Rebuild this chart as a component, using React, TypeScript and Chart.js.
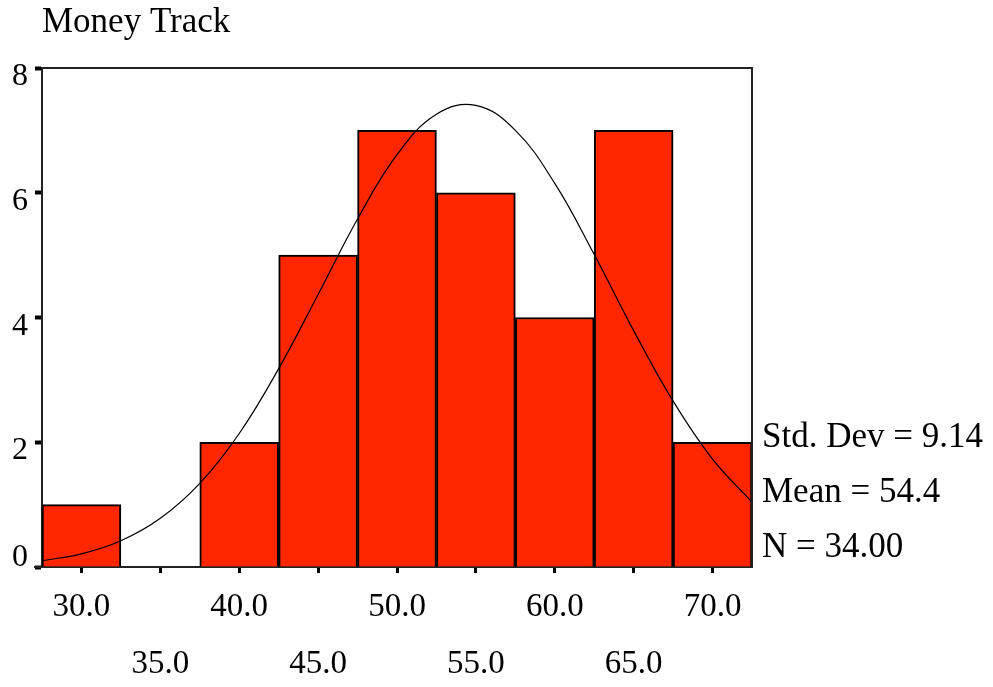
import React, { useEffect, useRef } from "react";
import { Chart, registerables } from "chart.js";

Chart.register(...registerables);

const chartTitle = "Money Track";
const binCenters = [30, 35, 40, 45, 50, 55, 60, 65, 70];
const binCounts = [1, 0, 2, 5, 7, 6, 4, 7, 2];
const curveX = [27.5, 30, 32.5, 35, 37.5, 40, 42.5, 45, 47.5, 50, 52.5, 55, 57.5, 60, 62.5, 65, 67.5, 70, 72.5];
const curveY = [0.1, 0.21, 0.42, 0.78, 1.34, 2.14, 3.18, 4.37, 5.58, 6.61, 7.26, 7.4, 7.0, 6.15, 5.01, 3.79, 2.66, 1.73, 1.04];
const xTickValues = [30, 35, 40, 45, 50, 55, 60, 65, 70];
const yTickValues = [0, 2, 4, 6, 8];
const statLines = ["Std. Dev = 9.14", "Mean = 54.4", "N = 34.00"];

const FONT = '"Liberation Serif", "Times New Roman", Times, serif';

const overlay = {
  id: "overlay",
  afterDraw(chart: any) {
    const { ctx, chartArea, scales } = chart;
    const xs = scales.x;
    const ys = scales.y;
    ctx.save();
    ctx.strokeStyle = "#222";
    ctx.lineWidth = 2;
    ctx.beginPath();
    ctx.moveTo(chartArea.left, chartArea.top);
    ctx.lineTo(chartArea.right, chartArea.top);
    ctx.lineTo(chartArea.right, chartArea.bottom);
    ctx.moveTo(chartArea.left - 8, chartArea.bottom);
    ctx.lineTo(chartArea.left, chartArea.bottom);
    ctx.stroke();

    ctx.fillStyle = "#000";
    ctx.font = `32px ${FONT}`;
    ctx.textAlign = "right";
    ctx.textBaseline = "alphabetic";
    yTickValues.forEach((v) => {
      const py = ys.getPixelForValue(v);
      const base = Math.min(py + 17, chartArea.bottom - 1);
      ctx.fillText(String(v), 28, base);
    });
    ctx.font = `33px ${FONT}`;
    ctx.textAlign = "center";
    xTickValues.forEach((v, i) => {
      const px = xs.getPixelForValue(v);
      const base = chartArea.bottom + (i % 2 === 0 ? 49 : 106);
      ctx.fillText(v.toFixed(1), px, base);
    });
    ctx.font = `35px ${FONT}`;
    ctx.textAlign = "left";
    ctx.fillText(chartTitle, 42, 32);
    const offs = [120, 65, 10];
    statLines.forEach((s, i) => {
      ctx.fillText(s, chartArea.right + 10, chartArea.bottom - offs[i]);
    });
    ctx.restore();
  },
};

export default function App() {
  const ref = useRef<HTMLCanvasElement>(null);
  useEffect(() => {
    if (!ref.current) return;
    const chart = new Chart(ref.current, {
      type: "bar",
      data: {
        datasets: [
          {
            type: "line",
            data: curveX.map((x, i) => ({ x, y: curveY[i] })),
            borderColor: "#000",
            borderWidth: 1.2,
            pointRadius: 0,
            tension: 0.4,
            fill: false,
          } as any,
          {
            type: "bar",
            data: binCenters.map((x, i) => ({ x, y: binCounts[i] })),
            backgroundColor: "#ff2600",
            borderColor: "#000",
            borderWidth: 2,
            barPercentage: 1,
            categoryPercentage: 1,
          } as any,
        ],
      },
      options: {
        responsive: false,
        animation: false,
        layout: { padding: { top: 68, right: 241, left: 0, bottom: 0 } },
        plugins: { legend: { display: false }, tooltip: { enabled: false }, title: { display: false } },
        scales: {
          x: {
            type: "linear",
            min: 27.5,
            max: 72.5,
            offset: false,
            afterBuildTicks: (scale: any) => {
              scale.ticks = xTickValues.map((v) => ({ value: v }));
            },
            afterFit: (scale: any) => {
              scale.height = 120;
            },
            ticks: { display: false },
            grid: {
              offset: false,
              drawOnChartArea: false,
              drawTicks: true,
              tickLength: 6,
              tickWidth: 3,
              tickColor: "#000",
            },
            border: { display: true, color: "#222", width: 2 },
          },
          y: {
            type: "linear",
            min: 0,
            max: 8,
            afterBuildTicks: (scale: any) => {
              scale.ticks = yTickValues.map((v) => ({ value: v }));
            },
            afterFit: (scale: any) => {
              scale.width = 42;
            },
            ticks: { display: false },
            grid: {
              drawOnChartArea: false,
              drawTicks: true,
              tickLength: 7,
              tickWidth: 4,
              tickColor: "#000",
            },
            border: { display: true, color: "#222", width: 2 },
          },
        },
      } as any,
      plugins: [overlay],
    });
    return () => chart.destroy();
  }, []);
  return (
    <div style={{ position: "absolute", left: 0, top: 0, width: 993, height: 687, background: "#fff" }}>
      <canvas ref={ref} width={993} height={687} />
    </div>
  );
}
